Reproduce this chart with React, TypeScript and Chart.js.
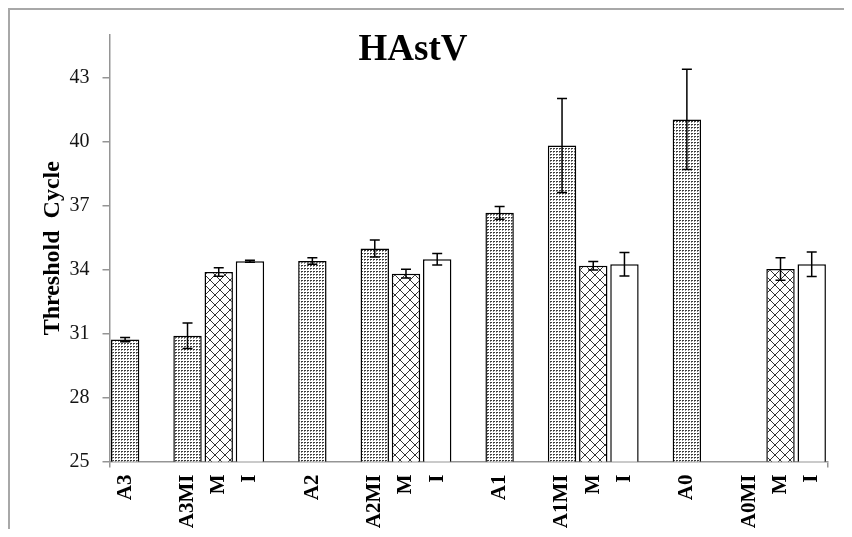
import React, { useEffect, useRef } from 'react';
import { Chart, registerables } from 'chart.js';

Chart.register(...registerables);

// Threshold cycle per sample, four bars per group (A, AMI, M, I)
const barLabels = ['A3', 'A3MI', 'M', 'I', 'A2', 'A2MI', 'M', 'I', 'A1', 'A1MI', 'M', 'I', 'A0', 'A0MI', 'M', 'I'];
const meanCt: (number | null)[] = [30.72, 30.9, 33.89, 34.39, 34.4, 34.99, 33.81, 34.48, 36.66, 39.82, 34.18, 34.25, 41.04, null, 34.03, 34.25];
const errCt: (number | null)[] = [0.1, 0.6, 0.2, 0.05, 0.15, 0.4, 0.2, 0.27, 0.3, 2.2, 0.2, 0.55, 2.35, null, 0.53, 0.58];
const yTicks = [25, 28, 31, 34, 37, 40, 43];
const yMin = 25;
const yMax = 45;
const chartTitle = 'HAstV';
const yTitle = 'Threshold  Cycle';

const GROUP = 4;
const SERIF = "'Liberation Serif', 'Times New Roman', serif";
const AXIS_GREY = '#959595';

// Lay the bars out in slots: an empty slot after the first bar of a group and between groups
const slotLabels: string[] = [];
const slotMean: (number | null)[] = [];
const slotErr: (number | null)[] = [];
barLabels.forEach((lab, i) => {
  const pos = i % GROUP;
  if (i > 0 && pos === 0) {
    slotLabels.push('');
    slotMean.push(null);
    slotErr.push(null);
  }
  slotLabels.push(lab);
  slotMean.push(meanCt[i]);
  slotErr.push(errCt[i]);
  if (pos === 0) {
    slotLabels.push('');
    slotMean.push(null);
    slotErr.push(null);
  }
});

function makeDotPattern(ctx: CanvasRenderingContext2D) {
  const t = document.createElement('canvas');
  t.width = 3;
  t.height = 3;
  const c = t.getContext('2d')!;
  c.fillStyle = '#ffffff';
  c.fillRect(0, 0, 3, 3);
  c.fillStyle = '#3c3c3c';
  c.fillRect(0, 0, 2, 1);
  c.fillStyle = '#8a8a8a';
  c.fillRect(0, 1, 1, 1);
  return ctx.createPattern(t, 'repeat')!;
}

function makeHatchPattern(ctx: CanvasRenderingContext2D) {
  const s = 10;
  const t = document.createElement('canvas');
  t.width = s;
  t.height = s;
  const c = t.getContext('2d')!;
  c.fillStyle = '#ffffff';
  c.fillRect(0, 0, s, s);
  c.strokeStyle = '#333333';
  c.lineWidth = 1;
  c.beginPath();
  c.moveTo(-1, -1);
  c.lineTo(s + 1, s + 1);
  c.moveTo(s + 1, -1);
  c.lineTo(-1, s + 1);
  c.stroke();
  return ctx.createPattern(t, 'repeat')!;
}

const errorBarPlugin = {
  id: 'errorBars',
  afterDatasetsDraw(chart: any) {
    const meta = chart.getDatasetMeta(0);
    const y = chart.scales.y;
    const ctx: CanvasRenderingContext2D = chart.ctx;
    ctx.save();
    ctx.strokeStyle = '#000000';
    ctx.lineWidth = 1.5;
    meta.data.forEach((bar: any, i: number) => {
      const v = slotMean[i];
      const e = slotErr[i];
      if (v == null || e == null) return;
      const top = y.getPixelForValue(v + e);
      const bot = y.getPixelForValue(v - e);
      const half = 5;
      ctx.beginPath();
      ctx.moveTo(bar.x, top);
      ctx.lineTo(bar.x, bot);
      ctx.moveTo(bar.x - half, top);
      ctx.lineTo(bar.x + half, top);
      ctx.moveTo(bar.x - half, bot);
      ctx.lineTo(bar.x + half, bot);
      ctx.stroke();
    });
    ctx.restore();
  },
};

const titlePlugin = {
  id: 'innerTitle',
  afterDraw(chart: any) {
    const ctx: CanvasRenderingContext2D = chart.ctx;
    ctx.save();
    ctx.font = `bold 37px ${SERIF}`;
    ctx.fillStyle = '#000000';
    ctx.textAlign = 'center';
    ctx.textBaseline = 'alphabetic';
    ctx.fillText(chartTitle, 403, 50);
    ctx.restore();
  },
};

export default function App() {
  const canvasRef = useRef<HTMLCanvasElement | null>(null);

  useEffect(() => {
    const canvas = canvasRef.current;
    if (!canvas) return;
    const ctx = canvas.getContext('2d')!;
    const dots = makeDotPattern(ctx);
    const hatch = makeHatchPattern(ctx);
    const fills = slotLabels.map((lab) =>
      lab.startsWith('A') ? dots : lab === 'M' ? hatch : '#ffffff'
    );

    const chart = new Chart(canvas, {
      type: 'bar',
      data: {
        labels: slotLabels,
        datasets: [
          {
            data: slotMean as any,
            backgroundColor: fills as any,
            borderColor: '#000000',
            borderWidth: 1.5,
            barPercentage: 0.91,
            categoryPercentage: 1,
          },
        ],
      },
      options: {
        responsive: false,
        animation: false,
        layout: { padding: { top: 21, right: 4, left: 0, bottom: 0 } },
        plugins: {
          legend: { display: false },
          tooltip: { enabled: false },
          title: { display: false },
        },
        scales: {
          x: {
            grid: {
              drawOnChartArea: false,
              drawTicks: true,
              tickLength: 6,
              color: (c: any) => (c.type !== 'tick' || c.index === 0 ? AXIS_GREY : 'rgba(0,0,0,0)'),
              lineWidth: 1.5,
            },
            border: { color: AXIS_GREY, width: 1.5 },
            ticks: {
              autoSkip: false,
              maxRotation: 90,
              minRotation: 90,
              padding: 7,
              color: '#000000',
              font: { family: SERIF, size: 21, weight: 'bold' },
            },
            afterFit: (s: any) => {
              s.height = 67.5;
            },
          },
          y: {
            min: yMin,
            max: yMax,
            afterBuildTicks: (s: any) => {
              s.ticks = yTicks.map((v) => ({ value: v }));
            },
            grid: {
              drawOnChartArea: false,
              drawTicks: true,
              tickLength: 7,
              color: AXIS_GREY,
              lineWidth: 1.5,
            },
            border: { color: AXIS_GREY, width: 1.5 },
            ticks: {
              padding: 13,
              color: '#141414',
              font: { family: SERIF, size: 20 },
            },
            title: {
              display: true,
              text: yTitle,
              color: '#000000',
              font: { family: SERIF, size: 24, weight: 'bold' },
              padding: { top: 28, bottom: 0 },
            },
            afterFit: (s: any) => {
              s.width = 99.5;
            },
          },
        },
      },
      plugins: [errorBarPlugin, titlePlugin],
    });

    return () => chart.destroy();
  }, []);

  return (
    <div
      style={{
        width: 836,
        height: 521,
        boxSizing: 'border-box',
        borderTop: '2px solid #a8a8a8',
        borderLeft: '2px solid #a8a8a8',
        background: '#ffffff',
      }}
    >
      <canvas ref={canvasRef} width={834} height={519} style={{ display: 'block', width: 834, height: 519 }} />
    </div>
  );
}
